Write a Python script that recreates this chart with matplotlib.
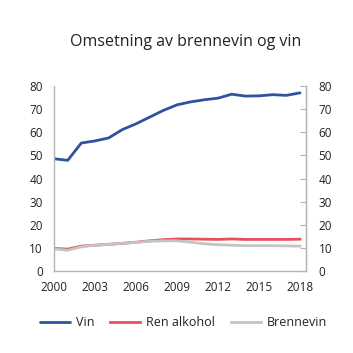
import matplotlib
matplotlib.use("Agg")
import matplotlib.pyplot as plt

years = list(range(2000, 2019))
vin = [48.6, 47.9, 55.4, 56.3, 57.6, 61.2, 63.7, 66.6, 69.5, 71.9, 73.2, 74.1, 74.8, 76.5, 75.7, 75.8, 76.3, 76.0, 77.1]
ren_alkohol = [9.8, 9.5, 10.8, 11.2, 11.6, 12.0, 12.5, 13.1, 13.6, 13.9, 13.9, 13.8, 13.7, 13.9, 13.7, 13.7, 13.7, 13.7, 13.8]
brennevin = [9.6, 9.0, 10.5, 11.2, 11.6, 12.0, 12.4, 12.9, 13.1, 13.1, 12.5, 11.8, 11.4, 11.2, 11.0, 11.0, 11.0, 10.9, 10.8]
xticks = [2000, 2003, 2006, 2009, 2012, 2015, 2018]
yticks = [0, 10, 20, 30, 40, 50, 60, 70, 80]

plt.rcParams['font.family'] = ['Open Sans', 'DejaVu Sans']
fig = plt.figure(figsize=(3.53, 3.53), dpi=100)
ax = fig.add_axes([0.153, 0.232, 0.714, 0.524])
spine_c = '#b3b3b3'
text_c = '#222222'
lw = 2.0
ax.plot(years, vin, color='#2f52a0', lw=lw, label='Vin', solid_joinstyle='round', solid_capstyle='round')
ax.plot(years, ren_alkohol, color='#e8505b', lw=lw, label='Ren alkohol', solid_joinstyle='round')
ax.plot(years, brennevin, color='#c4c4c4', lw=lw, label='Brennevin', solid_joinstyle='round')
ax.set_xlim(2000, 2018.44)
ax.set_ylim(0, 80)
ax.set_xticks(xticks)
ax.set_yticks(yticks)
ax.spines['top'].set_visible(False)
for s in ['left', 'right', 'bottom']:
    ax.spines[s].set_color(spine_c)
    ax.spines[s].set_linewidth(1.0)
ax.tick_params(axis='x', length=0, pad=7, labelsize=8.5, colors=text_c)
ax.tick_params(axis='y', length=0, pad=8, labelsize=8.5, colors=text_c)
ax2 = ax.twinx()
ax2.set_ylim(0, 80)
ax2.set_yticks(yticks)
ax2.spines['top'].set_visible(False)
ax2.spines['left'].set_visible(False)
ax2.spines['bottom'].set_visible(False)
ax2.spines['right'].set_color(spine_c)
ax2.tick_params(axis='y', direction='in', length=4, pad=9, labelsize=8.5, labelcolor=text_c, color=spine_c)

fig.text(0.527, 0.882, 'Omsetning av brennevin og vin', ha='center', va='center', fontsize=11.5, color=text_c)
h, l = ax.get_legend_handles_labels()
fig.legend(h, l, loc='center', bbox_to_anchor=(0.52, 0.085), ncol=3, frameon=False,
           fontsize=9, handlelength=2.4, columnspacing=1.3, handletextpad=0.45, labelcolor=text_c)
fig.savefig('out.png', dpi=100)
